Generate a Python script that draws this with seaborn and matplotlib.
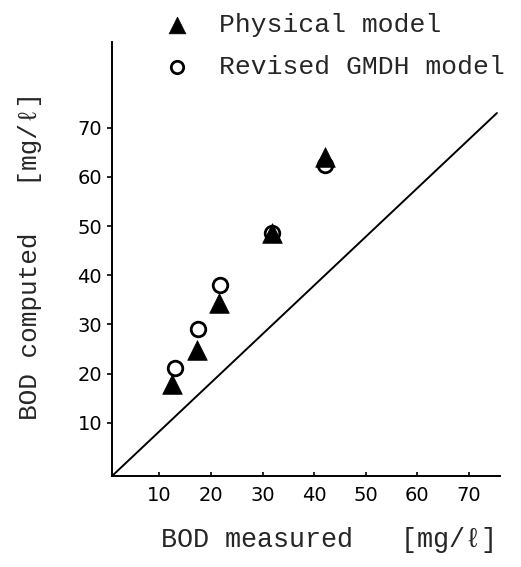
import matplotlib
matplotlib.use("Agg")
import matplotlib.pyplot as plt
import seaborn as sns
import pandas as pd

# Data
measured_phys = [12.4, 17.3, 21.5, 31.8, 42.1]
computed_phys = [17.9, 24.8, 34.4, 48.6, 64.1]
measured_gmdh = [13.0, 17.5, 21.7, 31.8, 42.1]
computed_gmdh = [21.2, 29.1, 38.0, 48.6, 62.4]
diag_x = [0.8, 75.5]
diag_y = [-0.8, 73.0]
tick_vals = [10, 20, 30, 40, 50, 60, 70]
label_phys = "Physical model"
label_gmdh = "Revised GMDH model"
xlabel = "BOD measured   [mg/\u2113]"
ylabel = "BOD computed   [mg/\u2113]"

sns.set_style("ticks")
mono = ["Liberation Mono", "DejaVu Sans Mono"]

fig = plt.figure(figsize=(5.21, 5.67), dpi=100)
ax = fig.add_axes([112/521, 1-476/567, 388/521, (476-42)/567])

df_p = pd.DataFrame({"x": measured_phys, "y": computed_phys})
df_g = pd.DataFrame({"x": measured_gmdh, "y": computed_gmdh})

sns.lineplot(x=diag_x, y=diag_y, color="black", linewidth=1.4, ax=ax, zorder=1)
sns.scatterplot(data=df_g, x="x", y="y", marker="o", s=110, facecolor="white",
                edgecolor="black", linewidth=2.0, ax=ax, label=label_gmdh, zorder=2)
sns.scatterplot(data=df_p, x="x", y="y", marker="^", s=200, color="black",
                edgecolor="black", linewidth=0.5, ax=ax, label=label_phys, zorder=3)

ax.set_xlim(0.78, 76.1)
ax.set_ylim(-0.81, 87.45)
ax.set_xticks(tick_vals)
ax.set_yticks(tick_vals)
ax.set_xticklabels([str(v) for v in tick_vals])
ax.set_yticklabels([str(v) for v in tick_vals])
sns.despine(ax=ax)
for s in ["left", "bottom"]:
    ax.spines[s].set_linewidth(1.4)
    ax.spines[s].set_color("black")
ax.tick_params(axis="y", direction="out", length=3.6, width=1.2, pad=3.5,
               labelsize=14, colors="black")
ax.tick_params(axis="x", direction="in", length=3, width=1.2, pad=7.5,
               labelsize=14, colors="black")
ax.set_xlabel("")
ax.set_ylabel("")

fig.text(329/521, 1-540/567, xlabel, family=mono, fontsize=19.3,
         ha="center", va="center")
fig.text(30/521, 1-256/567, ylabel, family=mono, fontsize=18.8,
         ha="center", va="center", rotation=90)

handles, labels = ax.get_legend_handles_labels()
order = [labels.index(label_phys), labels.index(label_gmdh)]
leg = ax.legend([handles[i] for i in order], [labels[i] for i in order],
                loc="upper left", bbox_to_anchor=(161/521, 1-13/567),
                bbox_transform=fig.transFigure, frameon=False,
                prop={"family": mono, "size": 19}, handlelength=1.2,
                handletextpad=1.0, labelspacing=0.68, borderpad=0,
                borderaxespad=0, markerscale=0.85)

fig.savefig("out.png", dpi=100)
